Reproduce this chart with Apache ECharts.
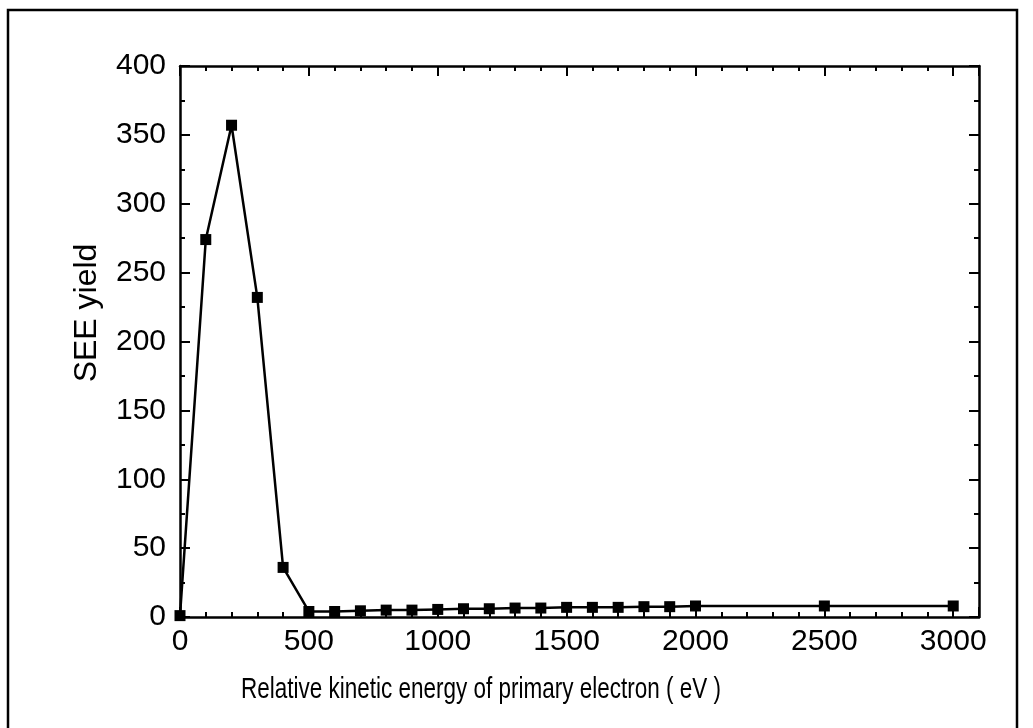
<!DOCTYPE html>
<html>
<head>
<meta charset="utf-8">
<script src="https://cdn.jsdelivr.net/npm/echarts@6/dist/echarts.min.js"></script>
<style>
html,body{margin:0;padding:0;background:#fff;}
#main{width:1033px;height:728px;}
</style>
</head>
<body>
<div id="main"></div>
<script>
// Data
const energies = [0, 100, 200, 300, 400, 500, 600, 700, 800, 900, 1000, 1100, 1200, 1300, 1400, 1500, 1600, 1700, 1800, 1900, 2000, 2500, 3000];
const yields   = [1, 274, 357, 232, 36, 4, 4, 4.5, 5, 5, 5.5, 6, 6, 6.5, 6.5, 7, 7, 7, 7.5, 7.5, 8, 8, 8];
const xTitle = 'Relative kinetic energy of primary electron ( eV )';
const yTitle = 'SEE yield';

const chart = echarts.init(document.getElementById('main'), null, {renderer: 'canvas'});
const regular = "'Liberation Sans', Arial, sans-serif";
const lineStyle = {color: '#000', width: 2.5};

function xAxis(pos, interval, len, labels, showLine) {
  return {
    type: 'value', position: pos, min: 0, max: 3100, interval: interval,
    axisLine: {show: showLine, onZero: false, lineStyle: lineStyle},
    axisTick: {show: true, inside: true, length: len, lineStyle: {color: '#000', width: 2}},
    axisLabel: {
      show: labels, color: '#000', fontFamily: regular, fontSize: 30, margin: 10,
      formatter: v => (v % 500 === 0 ? String(v) : '')
    },
    splitLine: {show: false}
  };
}
function yAxis(pos, labels) {
  return {
    type: 'value', position: pos, min: 0, max: 400, interval: 50,
    axisLine: {show: true, onZero: false, lineStyle: lineStyle},
    axisTick: {show: true, inside: true, length: 10, lineStyle: {color: '#000', width: 2}},
    minorTick: {show: true, splitNumber: 2, length: 5, lineStyle: {color: '#000', width: 2}},
    axisLabel: {show: labels, color: '#000', fontFamily: regular, fontSize: 30, margin: 14},
    splitLine: {show: false}
  };
}

chart.setOption({
  animation: false,
  backgroundColor: '#fff',
  grid: {left: 180, right: 54, top: 66, bottom: 111, containLabel: false},
  xAxis: [
    xAxis('bottom', 500, 10, true, true),
    xAxis('bottom', 100, 5, false, false),
    xAxis('top', 500, 10, false, true),
    xAxis('top', 100, 5, false, false)
  ],
  yAxis: [yAxis('left', true), yAxis('right', false)],
  graphic: [
    {type: 'rect', shape: {x: 8, y: 10, width: 1009, height: 730}, style: {fill: 'none', stroke: '#000', lineWidth: 2.5}, z: 100},
    {type: 'text', x: 481, y: 690, scaleY: 1.3, style: {text: xTitle, font: "22.5px " + regular, fill: '#000', align: 'center', verticalAlign: 'middle'}},
    {type: 'text', x: 87, y: 313, rotation: Math.PI / 2, style: {text: yTitle, font: "32px " + regular, fill: '#000', align: 'center', verticalAlign: 'middle'}}
  ],
  series: [{
    type: 'line',
    xAxisIndex: 0, yAxisIndex: 0,
    data: energies.map((e, i) => [e, yields[i]]),
    symbol: 'rect', symbolSize: 11,
    itemStyle: {color: '#000'},
    lineStyle: {color: '#000', width: 2.5},
    clip: false
  }]
});
</script>
</body>
</html>
